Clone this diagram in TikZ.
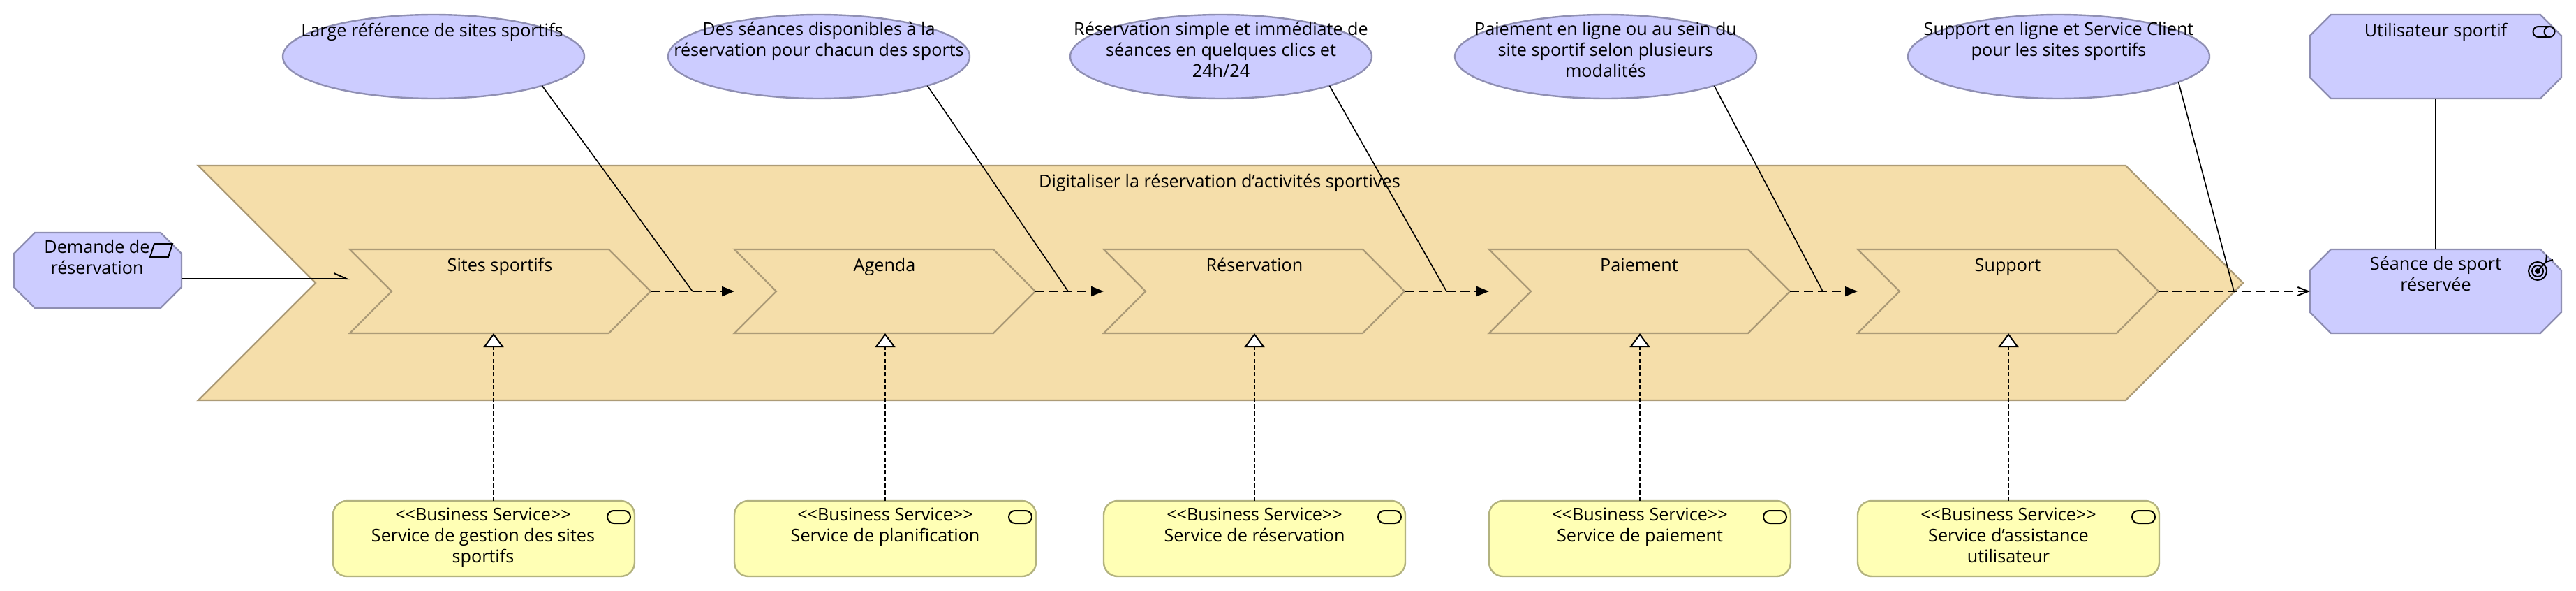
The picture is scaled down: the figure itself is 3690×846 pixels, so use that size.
\documentclass[tikz,border=0pt]{standalone}
\usepackage{fontspec}
\setmainfont{Open Sans}
\usetikzlibrary{arrows.meta,shapes.geometric,shapes.misc,shapes.symbols}

\definecolor{motivfill}{HTML}{CCCCFF}
\definecolor{motivline}{HTML}{8F8FB3}
\definecolor{stratfill}{HTML}{F5DEAA}
\definecolor{stratline}{HTML}{AC9B77}
\definecolor{busifill}{HTML}{FFFFB5}
\definecolor{busiline}{HTML}{B3B37F}

\tikzset{
    lbl/.style={align=center,anchor=north,inner sep=0pt,font=\fontsize{12.6}{15}\selectfont,
        execute at begin node=\strut},
    motiv/.style={chamfered rectangle,chamfered rectangle xsep=10pt,chamfered rectangle ysep=5pt,
        draw=motivline,fill=motivfill,line width=1.2pt,inner sep=0pt,outer sep=0pt,text depth=0pt},
    value/.style={ellipse,draw=motivline,fill=motivfill,line width=1.2pt,
        minimum width=216pt,minimum height=60pt,inner sep=0pt,outer sep=0pt},
    stream/.style={signal,signal to=east,signal from=west,signal pointer angle=90,
        draw=stratline,fill=stratfill,line width=1.2pt,inner sep=0pt,outer sep=0pt},
    stage/.style={stream,minimum width=215.5pt,minimum height=60pt},
    service/.style={rectangle,rounded corners=10pt,draw=busiline,fill=busifill,line width=1.2pt,
        minimum width=216pt,minimum height=54pt,inner sep=0pt,outer sep=0pt},
    flow/.style={line width=1pt,dash pattern=on 6.5pt off 3.5pt},
    assoc/.style={line width=0.8pt},
    realize/.style={line width=0.6pt,dash pattern=on 3pt off 1.7pt,
        -{Triangle[open,fill=white,length=10pt,width=14.5pt,line width=1pt]}},
    icon/.style={line width=1pt}
}

\begin{document}
\begin{tikzpicture}[x=0.5pt,y=-0.5pt]
    \useasboundingbox (0,0) rectangle (3690,846);

    % Chaine de valeur
    \node[stream,minimum width=1464.5pt,minimum height=168pt,anchor=east] (chain) at (3213,405) {};
    \node[lbl] (chaintxt) at (1747,247) {Digitaliser la réservation d'activités sportives};

    % Etapes
    \node[stage,anchor=east] (sites) at (932,417) {};
    \node[stage,anchor=east] (agenda) at (1483,417) {};
    \node[stage,anchor=east] (resa) at (2012,417) {};
    \node[stage,anchor=east] (paie) at (2564,417) {};
    \node[stage,anchor=east] (supp) at (3092,417) {};
    \node[lbl] (sitestxt) at (716,367) {Sites sportifs};
    \node[lbl] (agendatxt) at (1267,367) {Agenda};
    \node[lbl] (resatxt) at (1797,367) {Réservation};
    \node[lbl] (paietxt) at (2348,367) {Paiement};
    \node[lbl] (supptxt) at (2876,367) {Support};

    % Propositions de valeur
    \node[value] (ellA) at (621,81) {};
    \node[value] (ellB) at (1173,81) {};
    \node[value] (ellC) at (1749,81) {};
    \node[value] (ellD) at (2300,81) {};
    \node[value] (ellE) at (2949,81) {};
    \node[lbl] (ellAtxt) at (619,31) {Large référence de sites sportifs};
    \node[lbl] (ellBtxt) at (1173,31) {Des séances disponibles à la\\réservation pour chacun des sports};
    \node[lbl] (ellCtxt) at (1749,31) {Réservation simple et immédiate de\\séances en quelques clics et\\24h/24};
    \node[lbl] (ellDtxt) at (2300,31) {Paiement en ligne ou au sein du\\site sportif selon plusieurs\\modalités};
    \node[lbl] (ellEtxt) at (2949,31) {Support en ligne et Service Client\\pour les sites sportifs};

    % Elements de motivation
    \node[motiv,text width=100pt,text height=44pt] (demande) at (140,387) {};
    \node[motiv,text width=160pt,text height=50pt] (user) at (3489,81) {};
    \node[motiv,text width=160pt,text height=50pt] (seance) at (3489,417) {};
    \node[lbl] (demandetxt) at (139,343) {Demande de\\réservation};
    \node[lbl] (usertxt) at (3489,31) {Utilisateur sportif};
    \node[lbl] (seancetxt) at (3489,367) {Séance de sport\\réservée};

    % Services
    \node[service] (servA) at (693,771) {};
    \node[service] (servB) at (1268,771) {};
    \node[service] (servC) at (1797,771) {};
    \node[service] (servD) at (2349,771) {};
    \node[service] (servE) at (2877,771) {};
    \node[lbl] (servAtxt) at (692,727) {<{}<Business Service>{}>\\Service de gestion des sites\\sportifs};
    \node[lbl] (servBtxt) at (1268,727) {<{}<Business Service>{}>\\Service de planification};
    \node[lbl] (servCtxt) at (1797,727) {<{}<Business Service>{}>\\Service de réservation};
    \node[lbl] (servDtxt) at (2349,727) {<{}<Business Service>{}>\\Service de paiement};
    \node[lbl] (servEtxt) at (2877,727) {<{}<Business Service>{}>\\Service d'assistance\\utilisateur};

    % Points de jonction
    \coordinate (joinA) at (992,417);
    \coordinate (joinB) at (1530,417);
    \coordinate (joinC) at (2072,417);
    \coordinate (joinD) at (2611,417);
    \coordinate (joinE) at (3200,417);

    % Flux
    \draw[-{Triangle[length=9pt,width=7pt]},flow] (sites.east) -- (agenda.north west |- agenda.east);
    \draw[-{Triangle[length=9pt,width=7pt]},flow] (agenda.east) -- (resa.north west |- resa.east);
    \draw[-{Triangle[length=9pt,width=7pt]},flow] (resa.east) -- (paie.north west |- paie.east);
    \draw[-{Triangle[length=9pt,width=7pt]},flow] (paie.east) -- (supp.north west |- supp.east);
    \draw[-{Straight Barb[length=7.5pt,width=6pt]},flow] (supp.east) -- (seance.west |- supp.east);
    \draw[line width=1pt,-{Straight Barb[left,length=9pt,width=8pt]}] (demande.east |- 0,399) -- (sites.north west |- 0,399);

    % Associations
    \draw[assoc] (ellA.-15.4) -- (joinA);
    \draw[assoc] (ellB.-15.4) -- (joinB);
    \draw[assoc] (ellC.-15.4) -- (joinC);
    \draw[assoc] (ellD.-15.4) -- (joinD);
    \draw[assoc] (ellE.-12) -- (joinE);
    \draw[line width=1pt] (user.south) -- (seance.north);

    % Realisations
    \draw[realize] (707,717) -- (707,477);
    \draw[realize] (servB.north) -- (1268,477);
    \draw[realize] (servC.north) -- (1797,477);
    \draw[realize] (servD.north) -- (2349,477);
    \draw[realize] (servE.north) -- (2877,477);

    % Icones
    \draw[icon] (221,349) -- (247,349) -- (241,368) -- (215,368) -- cycle;
    \draw[icon,rounded corners=4.5pt] (870,731) rectangle (903,749);
    \draw[icon,rounded corners=4.5pt] (1445,731) rectangle (1478,749);
    \draw[icon,rounded corners=4.5pt] (1974,731) rectangle (2007,749);
    \draw[icon,rounded corners=4.5pt] (2526,731) rectangle (2559,749);
    \draw[icon,rounded corners=4.5pt] (3054,731) rectangle (3087,749);
    \draw[icon] (3652,38) -- (3636,38) arc (-90:-270:7.5) -- (3652,53);
    \draw[icon] (3652,45.5) circle (7.5);
    \draw[icon] (3635,388) circle (13);
    \draw[icon] (3635,388) circle (8);
    \fill (3635,388) circle (4);
    \draw[icon] (3635,388) -- (3647,375);
    \draw[icon] (3648,365) -- (3647,375) -- (3657,372);
\end{tikzpicture}
\end{document}
